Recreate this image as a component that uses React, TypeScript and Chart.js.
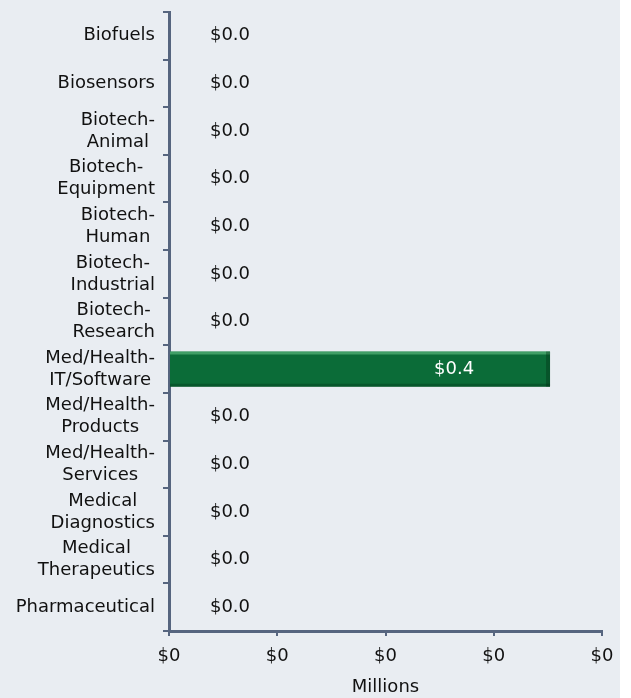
import React, { useEffect, useRef } from "react";
import { Chart, registerables } from "chart.js";

Chart.register(...registerables);

const categories: string[][] = [
  ["Biofuels"],
  ["Biosensors"],
  ["Biotech-", "Animal"],
  ["Biotech-", "Equipment"],
  ["Biotech-", "Human"],
  ["Biotech-", "Industrial"],
  ["Biotech-", "Research"],
  ["Med/Health-", "IT/Software"],
  ["Med/Health-", "Products"],
  ["Med/Health-", "Services"],
  ["Medical", "Diagnostics"],
  ["Medical", "Therapeutics"],
  ["Pharmaceutical"],
];

const investment: number[] = [0, 0, 0, 0, 0, 0, 0, 0.352, 0, 0, 0, 0, 0];

const xMin = 0;
const xMax = 0.4;
const xStep = 0.1;
const axisTitle = "Millions";

const FONT = '"DejaVu Sans", Verdana, sans-serif';
const TEXT = "#111111";
const AXIS = "#56657f";
const BG = "#e9edf2";
const BAR = "#0b6c38";

const yLabelPlugin = {
  id: "yLabels",
  afterDraw(chart: any) {
    const ctx = chart.ctx;
    const ys = chart.scales.y;
    const right = chart.chartArea.left - 14;
    const lineH = 22;
    ctx.save();
    ctx.font = `18px ${FONT}`;
    ctx.fillStyle = TEXT;
    ctx.textAlign = "center";
    ctx.textBaseline = "middle";
    categories.forEach((lines, i) => {
      const cy = ys.getPixelForValue(i);
      const maxW = Math.max(...lines.map((l) => ctx.measureText(l).width));
      const cx = right - maxW / 2;
      lines.forEach((l, j) => {
        ctx.fillText(l, cx, cy + (j - (lines.length - 1) / 2) * lineH);
      });
    });
    ctx.restore();
  },
};

const barStylePlugin = {
  id: "barStyle",
  afterDatasetsDraw(chart: any) {
    const ctx = chart.ctx;
    const meta = chart.getDatasetMeta(0);
    const xs = chart.scales.x;
    ctx.save();
    meta.data.forEach((el: any, i: number) => {
      const p = el.getProps(["x", "y", "base", "height"], true);
      const v = investment[i];
      if (v > 0) {
        const top = p.y - p.height / 2;
        const bottom = p.y + p.height / 2;
        ctx.fillStyle = "rgba(110,200,140,0.55)";
        ctx.fillRect(p.base, top, p.x - p.base, 3);
        ctx.fillStyle = "rgba(0,40,18,0.35)";
        ctx.fillRect(p.x - 4, top, 4, p.height);
        ctx.fillStyle = "rgba(0,40,18,0.3)";
        ctx.fillRect(p.base, bottom - 3, p.x - p.base, 3);
      }
      const label = "$" + v.toFixed(1);
      ctx.font = `18px ${FONT}`;
      ctx.textAlign = "center";
      ctx.textBaseline = "middle";
      if (v > 0) {
        ctx.fillStyle = "#ffffff";
        ctx.fillText(label, p.x - 96, p.y);
      } else {
        ctx.fillStyle = TEXT;
        ctx.fillText(label, xs.getPixelForValue(0) + 61, p.y);
      }
    });
    ctx.restore();
  },
};

export default function App() {
  const ref = useRef<HTMLCanvasElement | null>(null);
  useEffect(() => {
    document.body.style.margin = "0";
    document.body.style.background = "#ffffff";
    if (!ref.current) return;
    const chart = new Chart(ref.current, {
      type: "bar",
      data: {
        labels: categories.map((c) => c.join(" ")),
        datasets: [
          {
            data: investment,
            backgroundColor: BAR,
            borderWidth: 0,
            categoryPercentage: 1,
            barPercentage: 0.74,
          },
        ],
      },
      options: {
        indexAxis: "y",
        responsive: false,
        animation: false,
        layout: { padding: { top: 12, right: 18, left: 0, bottom: 0 } },
        plugins: {
          legend: { display: false },
          tooltip: { enabled: false },
        },
        scales: {
          y: {
            type: "category",
            afterFit(scale: any) {
              scale.width = 169;
            },
            grid: {
              display: true,
              drawOnChartArea: false,
              drawTicks: true,
              tickLength: 6,
              color: AXIS,
              lineWidth: 2,
              offset: true,
            },
            border: { display: true, color: AXIS, width: 3 },
            ticks: { display: false },
          },
          x: {
            type: "linear",
            min: xMin,
            max: xMax,
            afterFit(scale: any) {
              scale.height = 67;
              scale.paddingRight = 0;
              scale.paddingLeft = 0;
            },
            grid: {
              display: true,
              drawOnChartArea: false,
              drawTicks: true,
              tickLength: 5,
              color: AXIS,
              lineWidth: 2,
            },
            border: { display: true, color: AXIS, width: 3 },
            ticks: {
              stepSize: xStep,
              font: { family: FONT, size: 18 },
              color: TEXT,
              padding: 10,
              maxRotation: 0,
              autoSkip: false,
              callback: (v: any) => "$" + Math.round(Number(v)),
            },
            title: {
              display: true,
              text: axisTitle,
              font: { family: FONT, size: 18 },
              color: TEXT,
              padding: { top: 0, bottom: 0 },
            },
          },
        },
      },
      plugins: [yLabelPlugin, barStylePlugin],
    } as any);
    return () => chart.destroy();
  }, []);
  return (
    <div style={{ width: 631, height: 698, background: "#ffffff" }}>
      <canvas
        ref={ref}
        width={620}
        height={698}
        style={{ display: "block", background: BG }}
      />
    </div>
  );
}
